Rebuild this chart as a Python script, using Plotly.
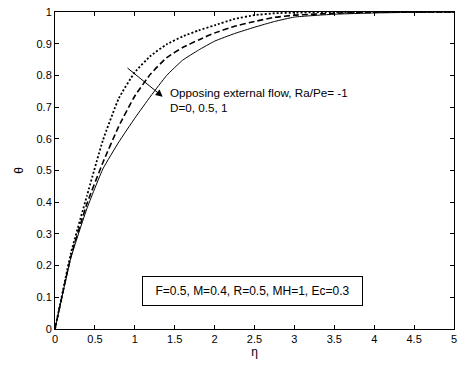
import plotly.graph_objects as go

# Dimensionless coordinate and temperature profiles for D = 0, 0.5, 1
eta = [0, 0.2, 0.4, 0.6, 0.8, 1.0, 1.2, 1.4, 1.6, 1.8, 2.0, 2.25, 2.5, 2.75, 3.0, 3.5, 4.0, 4.5, 5.0]
theta_d0 = [0, 0.225, 0.38, 0.505, 0.59, 0.665, 0.735, 0.8, 0.848, 0.88, 0.908, 0.932, 0.952, 0.97, 0.984, 0.993, 0.997, 0.999, 1.0]
theta_d05 = [0, 0.23, 0.395, 0.525, 0.64, 0.735, 0.805, 0.856, 0.888, 0.912, 0.934, 0.955, 0.97, 0.983, 0.99, 0.996, 0.999, 1.0, 1.0]
theta_d1 = [0, 0.24, 0.42, 0.595, 0.728, 0.81, 0.862, 0.898, 0.923, 0.942, 0.958, 0.978, 0.99, 0.996, 0.998, 1.0, 1.0, 1.0, 1.0]

x_ticks = [0, 0.5, 1, 1.5, 2, 2.5, 3, 3.5, 4, 4.5, 5]
y_ticks = [0, 0.1, 0.2, 0.3, 0.4, 0.5, 0.6, 0.7, 0.8, 0.9, 1]

FONT = "Liberation Sans, Arial, sans-serif"

fig = go.Figure()
fig.add_trace(go.Scatter(x=eta, y=theta_d0, mode="lines",
                         line=dict(color="black", width=1, dash="solid", shape="spline", smoothing=0.4)))
fig.add_trace(go.Scatter(x=eta, y=theta_d05, mode="lines",
                         line=dict(color="black", width=1.6, dash="6px,3px", shape="spline", smoothing=0.4)))
fig.add_trace(go.Scatter(x=eta, y=theta_d1, mode="lines",
                         line=dict(color="black", width=1.8, dash="2px,2px", shape="spline", smoothing=0.4)))

axis_common = dict(
    showline=True, linecolor="black", linewidth=1, mirror="ticks",
    ticks="inside", ticklen=4, tickwidth=1, tickcolor="black",
    showgrid=False, zeroline=False,
    tickfont=dict(family=FONT, size=11, color="black"),
)

fig.update_xaxes(range=[0, 5], tickvals=x_ticks, ticktext=[f"{v:g}" for v in x_ticks],
                 title=dict(text="η", font=dict(family=FONT, size=12, color="black"), standoff=3),
                 **axis_common)
fig.update_yaxes(range=[0, 1], tickvals=y_ticks, ticktext=[f"{v:g}" for v in y_ticks],
                 title=dict(text="θ", font=dict(family=FONT, size=12, color="black"), standoff=10),
                 **axis_common)

# Arrow indicating increasing D
fig.add_annotation(x=1.35, y=0.733, ax=0.89, ay=0.827, xref="x", yref="y", axref="x", ayref="y",
                   showarrow=True, arrowhead=2, arrowsize=1.4, arrowwidth=1, arrowcolor="black", text="")
fig.add_annotation(x=1.41, y=0.745, xref="x", yref="y", xanchor="left", yanchor="middle",
                   showarrow=False, align="left",
                   text="Opposing external flow, Ra/Pe= -1",
                   font=dict(family=FONT, size=11.7, color="black"))
fig.add_annotation(x=1.41, y=0.698, xref="x", yref="y", xanchor="left", yanchor="middle",
                   showarrow=False, align="left",
                   text="D=0, 0.5, 1",
                   font=dict(family=FONT, size=11.7, color="black"))

# Parameter box
fig.add_annotation(x=2.48, y=0.12, xref="x", yref="y", showarrow=False,
                   text="F=0.5, M=0.4, R=0.5, MH=1, Ec=0.3",
                   font=dict(family=FONT, size=12, color="black"),
                   bordercolor="black", borderwidth=1, borderpad=2,
                   width=215, height=24, bgcolor="white")

fig.update_layout(
    width=462, height=365,
    margin=dict(l=55, r=5, t=12, b=36),
    paper_bgcolor="white", plot_bgcolor="white",
    showlegend=False,
)

fig.write_html("out.html")
